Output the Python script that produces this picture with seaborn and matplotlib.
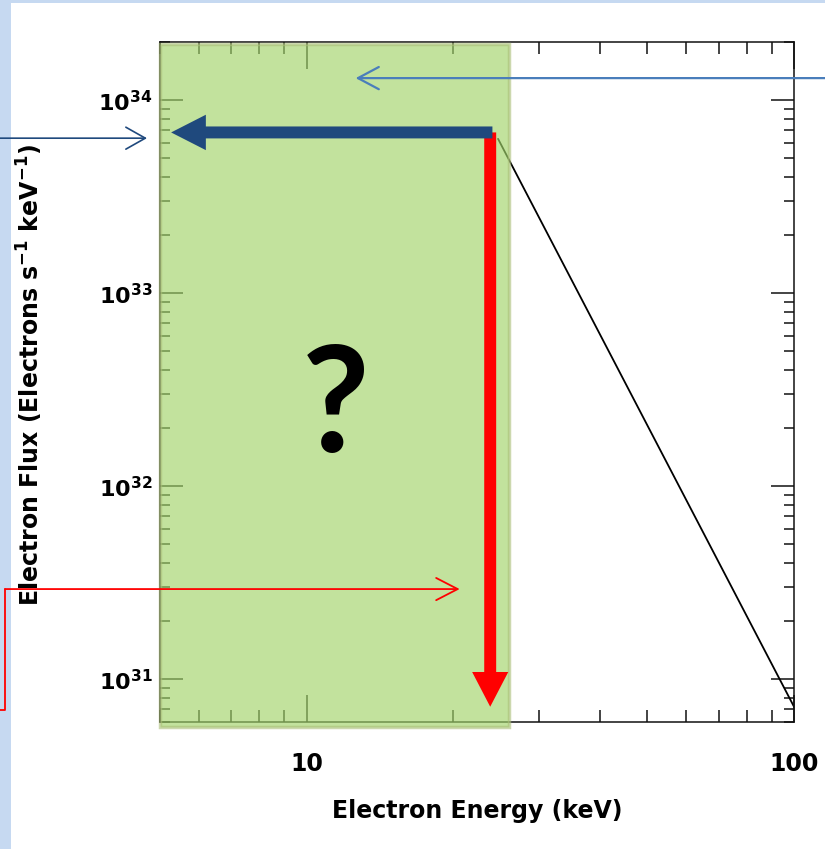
import numpy as np
import pandas as pd
import matplotlib
matplotlib.use("Agg")
import matplotlib.pyplot as plt
import matplotlib.ticker as mticker
from matplotlib.patches import FancyArrowPatch, Rectangle, ArrowStyle
from matplotlib.lines import Line2D
import seaborn as sns

# Power-law electron spectrum above the low-energy cutoff
energy_kev = [24.7, 100.0]
electron_flux = [6.3e33, 7.2e30]

# Unknown low-energy part of the spectrum (keV)
unknown_band = [5.0, 26.0]

# Axis ranges and ticks
x_limits = [5.0, 100.0]
y_limits = [6.0e30, 2.0e34]
x_ticks = [10, 100]
x_tick_labels = ["10", "100"]
y_ticks = [1e31, 1e32, 1e33, 1e34]
y_tick_labels = [r"$\mathbf{10^{31}}$", r"$\mathbf{10^{32}}$",
                 r"$\mathbf{10^{33}}$", r"$\mathbf{10^{34}}$"]

x_label = "Electron Energy (keV)"
y_label = r"Electron Flux (Electrons s$^{\mathbf{-1}}$ keV$^{\mathbf{-1}}$)"

# Thick arrows: flux level carried back to low energy, and drop in cutoff
level_arrow_energy = [24.05, 5.27]
level_arrow_flux = 6.8e33
drop_arrow_energy = 23.8
drop_arrow_flux = [6.8e33, 7.2e30]

# Thin pointer targets
flux_pointer_flux = 6.35e33
band_pointer = (12.6, 1.3e34)
cutoff_pointer = (20.6, 2.93e31)

DARK_BLUE = "#1f497d"
LIGHT_BLUE = "#4a7ebb"
RED = "#ff0000"

sns.set_theme(style="ticks")
plt.rcParams["font.family"] = ["DejaVu Sans"]
plt.rcParams["mathtext.fontset"] = "dejavusans"
plt.rcParams["text.color"] = "black"
plt.rcParams["axes.labelcolor"] = "black"
plt.rcParams["xtick.labelcolor"] = "black"
plt.rcParams["ytick.labelcolor"] = "black"

W, H = 825, 849
fig = plt.figure(figsize=(W / 100, H / 100), dpi=100)
fig.patch.set_facecolor("white")

# light blue slide frame strips
fig.add_artist(Rectangle((0, 0), 11 / W, 1, transform=fig.transFigure,
                         facecolor="#c6d9f1", edgecolor="none", zorder=0))
fig.add_artist(Rectangle((0, 1 - 3 / H), 1, 3 / H, transform=fig.transFigure,
                         facecolor="#c6d9f1", edgecolor="none", zorder=0))

ax = fig.add_axes([160 / W, (H - 722) / H, 634 / W, 680 / H])
ax.set_facecolor("white")

df = pd.DataFrame({"energy": energy_kev, "flux": electron_flux})
sns.lineplot(data=df, x="energy", y="flux", ax=ax, color="black", lw=1.3,
             zorder=2)

ax.set_xscale("log")
ax.set_yscale("log")
ax.set_xlim(*x_limits)
ax.set_ylim(*y_limits)

ax.set_xticks(x_ticks)
ax.set_xticklabels(x_tick_labels, fontsize=17, fontweight="bold")
ax.set_yticks(y_ticks)
ax.set_yticklabels(y_tick_labels, fontsize=16)
ax.xaxis.set_minor_locator(mticker.LogLocator(base=10, subs=np.arange(2, 10)))
ax.yaxis.set_minor_locator(mticker.LogLocator(base=10, subs=np.arange(2, 10),
                                              numticks=20))
ax.xaxis.set_minor_formatter(mticker.NullFormatter())
ax.yaxis.set_minor_formatter(mticker.NullFormatter())

ax.tick_params(which="both", direction="in", top=True, right=True,
               color="#111111", width=1.1)
ax.tick_params(axis="x", which="major", length=19.5, pad=21.5)
ax.tick_params(axis="x", which="minor", length=8.6)
ax.tick_params(axis="y", which="major", length=16.5, pad=5.5)
ax.tick_params(axis="y", which="minor", length=7)
for sp in ax.spines.values():
    sp.set_linewidth(1.1)
    sp.set_color("#111111")

ax.set_xlabel(x_label, fontsize=17, fontweight="bold")
ax.set_ylabel(y_label, fontsize=17, fontweight="bold")
ax.xaxis.set_label_coords(0.5, -0.113)
ax.xaxis.label.set_va("top")
ax.yaxis.set_label_coords(-0.181, 0.51)

# translucent band over the unknown low-energy region
ax.axvspan(unknown_band[0], unknown_band[1], ymin=-0.0074, ymax=0.9975,
           facecolor=(162 / 255, 212 / 255, 106 / 255, 0.655),
           edgecolor=(170 / 255, 190 / 255, 120 / 255, 0.6),
           linewidth=2.5, clip_on=False, zorder=3)

ax.text(0.2776, 0.397, "?", transform=ax.transAxes, ha="center",
        va="baseline", fontsize=106, fontweight="bold",
        family=["Lato", "DejaVu Sans"], color="black", zorder=4)

# thick block arrows
level_arrow = FancyArrowPatch(
    (level_arrow_energy[0], level_arrow_flux),
    (level_arrow_energy[1], level_arrow_flux),
    arrowstyle=ArrowStyle.Simple(head_length=25, head_width=25.5,
                                 tail_width=8.6),
    mutation_scale=1, shrinkA=0, shrinkB=0, linewidth=0,
    facecolor=DARK_BLUE, edgecolor=DARK_BLUE, zorder=6, clip_on=False)
drop_arrow = FancyArrowPatch(
    (drop_arrow_energy, drop_arrow_flux[0]),
    (drop_arrow_energy, drop_arrow_flux[1]),
    arrowstyle=ArrowStyle.Simple(head_length=25, head_width=26,
                                 tail_width=8.6),
    mutation_scale=1, shrinkA=0, shrinkB=0, linewidth=0,
    facecolor=RED, edgecolor=RED, zorder=5, clip_on=False)
ax.add_patch(drop_arrow)
ax.add_patch(level_arrow)

# thin pointers from outside the plot
ax.annotate("", xy=(-13 / 634, flux_pointer_flux),
            xycoords=("axes fraction", "data"),
            xytext=(0.0, flux_pointer_flux),
            textcoords=("figure fraction", "data"),
            arrowprops=dict(arrowstyle="->,head_length=14,head_width=7.9",
                            mutation_scale=1, color=DARK_BLUE, lw=1.2,
                            shrinkA=0, shrinkB=0),
            annotation_clip=False, zorder=7)

ax.annotate("", xy=band_pointer, xycoords="data",
            xytext=(1.0, band_pointer[1]),
            textcoords=("figure fraction", "data"),
            arrowprops=dict(arrowstyle="->,head_length=15,head_width=8",
                            mutation_scale=1, color=LIGHT_BLUE, lw=1.6,
                            shrinkA=0, shrinkB=0),
            annotation_clip=False, zorder=7)

ax.annotate("", xy=cutoff_pointer, xycoords="data",
            xytext=(5 / W, cutoff_pointer[1]),
            textcoords=("figure fraction", "data"),
            arrowprops=dict(arrowstyle="->,head_length=15.5,head_width=8",
                            mutation_scale=1, color=RED, lw=1.3,
                            shrinkA=0, shrinkB=0),
            annotation_clip=False, zorder=7)
# elbow of the red pointer, drawn in figure space down to its foot
fig.canvas.draw()
_, y_elbow = fig.transFigure.inverted().transform(
    ax.transData.transform(cutoff_pointer))
fig.add_artist(Line2D([0, 5 / W, 5 / W], [(H - 710) / H, (H - 710) / H,
                                          y_elbow],
                      transform=fig.transFigure, color=RED, lw=1.3,
                      zorder=7))

fig.savefig("out.png", dpi=100)
